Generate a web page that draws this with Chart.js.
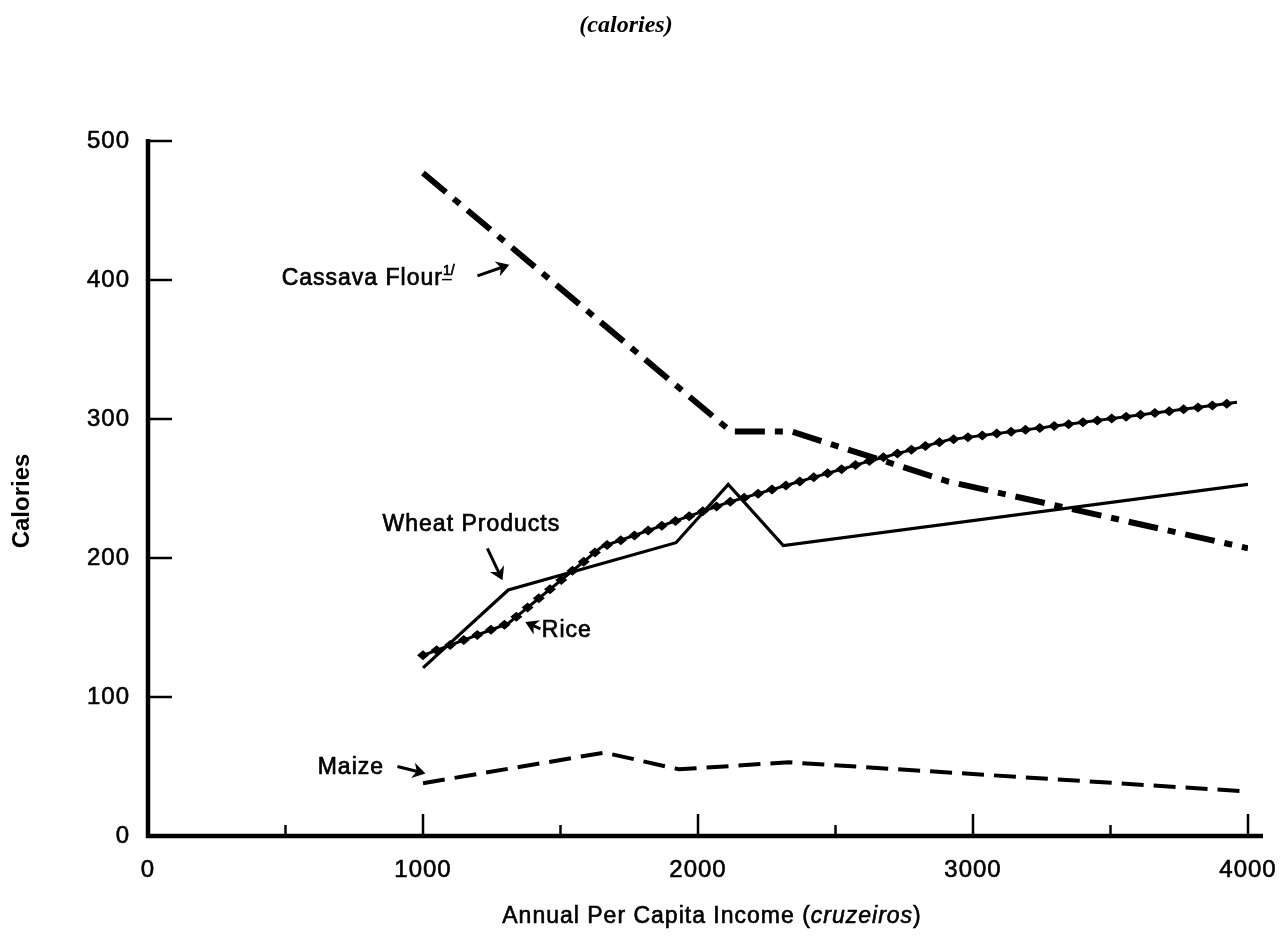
<!DOCTYPE html>
<html>
<head>
<meta charset="utf-8">
<script src="https://cdn.jsdelivr.net/npm/chart.js@4.4.1/dist/chart.umd.min.js"></script>
<style>
  html, body { margin: 0; padding: 0; background: #fff; }
</style>
</head>
<body>
<canvas id="grafico" width="1287" height="938"></canvas>
<script>
// Datos (ingreso anual per cápita en cruceiros, calorías)
const cassavaX = [1000, 2120, 2340, 2910, 4000];
const cassavaY = [477, 291, 291, 255, 207];
const wheatX = [1000, 1310, 1920, 2110, 2310, 4000];
const wheatY = [121, 177, 211, 253, 209, 253];
const riceX = [1000, 1310, 1650, 2110, 2610, 2910, 3960];
const riceY = [130, 153, 208, 240, 269, 285, 312];
const maizeX = [1000, 1660, 1930, 2330, 4000];
const maizeY = [38, 60, 48, 53, 32];

const xTicks = [0, 1000, 2000, 3000, 4000];
const yTicks = [0, 100, 200, 300, 400, 500];

const FUENTE = "'Liberation Sans', Arial, Helvetica, sans-serif";

// Etiquetas con flecha, en unidades de los datos
const etiquetas = [
  { texto: 'Cassava Flour', sup: '1/', x: 486, y: 401, cola: [1198, 403], punta: [1314, 411] },
  { texto: 'Wheat Products', x: 853, y: 224, cola: [1234, 207], punta: [1289, 184] },
  { texto: 'Rice', x: 1432, y: 148, cola: [1427, 149], punta: [1372, 154] },
  { texto: 'Maize', x: 617, y: 49, cola: [907, 50], punta: [1009, 45] }
];

function puntos(xs, ys) {
  return xs.map((x, i) => ({ x: x, y: ys[i] }));
}

function flecha(ctx, x1, y1, x2, y2) {
  const ang = Math.atan2(y2 - y1, x2 - x1);
  ctx.beginPath();
  ctx.moveTo(x1, y1);
  ctx.lineTo(x2 - 4 * Math.cos(ang), y2 - 4 * Math.sin(ang));
  ctx.stroke();
  ctx.beginPath();
  ctx.moveTo(x2, y2);
  ctx.lineTo(x2 - 15 * Math.cos(ang - 0.55), y2 - 15 * Math.sin(ang - 0.55));
  ctx.lineTo(x2 - 9 * Math.cos(ang), y2 - 9 * Math.sin(ang));
  ctx.lineTo(x2 - 15 * Math.cos(ang + 0.55), y2 - 15 * Math.sin(ang + 0.55));
  ctx.closePath();
  ctx.fill();
}

// diamantes a lo largo de la línea del arroz
function diamantes(ctx, pts, paso) {
  let d0 = 0;
  for (let i = 0; i < pts.length - 1; i++) {
    const a = pts[i], b = pts[i + 1];
    const dx = b.x - a.x, dy = b.y - a.y;
    const largo = Math.hypot(dx, dy);
    let d = d0;
    while (d <= largo) {
      const px = a.x + dx * d / largo, py = a.y + dy * d / largo;
      ctx.beginPath();
      ctx.moveTo(px - 6, py);
      ctx.lineTo(px, py - 5);
      ctx.lineTo(px + 6, py);
      ctx.lineTo(px, py + 5);
      ctx.closePath();
      ctx.fill();
      d += paso;
    }
    d0 = d - largo;
  }
}

function textoGrueso(ctx, t, x, y) {
  ctx.fillText(t, x, y);
  ctx.strokeText(t, x, y);
}

const decorado = {
  id: 'decorado',
  beforeDraw(chart) {
    chart.ctx.letterSpacing = '1px';
  },
  afterDatasetsDraw(chart) {
    const ctx = chart.ctx;
    const meta = chart.getDatasetMeta(2);
    ctx.save();
    ctx.fillStyle = '#000';
    diamantes(ctx, meta.data.map(p => ({ x: p.x, y: p.y })), 14.5);
    ctx.restore();
  },
  afterDraw(chart) {
    const ctx = chart.ctx;
    const xs = chart.scales.x, ys = chart.scales.y;
    const a = chart.chartArea;
    ctx.save();
    ctx.strokeStyle = '#000';
    ctx.fillStyle = '#000';
    ctx.lineCap = 'butt';

    // ejes
    ctx.lineWidth = 4.5;
    ctx.beginPath();
    ctx.moveTo(a.left, a.top - 2);
    ctx.lineTo(a.left, a.bottom);
    ctx.lineTo(a.right + 15, a.bottom);
    ctx.stroke();

    // marcas hacia adentro
    ctx.lineWidth = 2.5;
    yTicks.slice(1).forEach(v => {
      const py = ys.getPixelForValue(v);
      ctx.beginPath();
      ctx.moveTo(a.left, py);
      ctx.lineTo(a.left + 24, py);
      ctx.stroke();
    });
    for (let v = 500; v <= 4000; v += 500) {
      const px = xs.getPixelForValue(v);
      const alto = v % 1000 === 0 ? 22 : 11;
      ctx.beginPath();
      ctx.moveTo(px, a.bottom);
      ctx.lineTo(px, a.bottom - alto);
      ctx.stroke();
    }

    // etiquetas de las series
    ctx.font = '23px ' + FUENTE;
    ctx.textBaseline = 'middle';
    ctx.textAlign = 'left';
    etiquetas.forEach(e => {
      const px = xs.getPixelForValue(e.x), py = ys.getPixelForValue(e.y);
      ctx.lineWidth = 0.7;
      textoGrueso(ctx, e.texto, px, py);
      if (e.sup) {
        const w = ctx.measureText(e.texto).width;
        ctx.save();
        ctx.font = '14px ' + FUENTE;
        ctx.letterSpacing = '0px';
        textoGrueso(ctx, e.sup, px + w, py - 7);
        const w1 = ctx.measureText('1').width;
        ctx.lineWidth = 1.5;
        ctx.beginPath();
        ctx.moveTo(px + w - 1, py + 1);
        ctx.lineTo(px + w + w1 + 1, py + 1);
        ctx.stroke();
        ctx.restore();
      }
      ctx.lineWidth = 3;
      flecha(ctx, xs.getPixelForValue(e.cola[0]), ys.getPixelForValue(e.cola[1]),
        xs.getPixelForValue(e.punta[0]), ys.getPixelForValue(e.punta[1]));
    });

    // título
    ctx.textAlign = 'center';
    ctx.font = "italic bold 24px 'Liberation Serif', serif";
    ctx.letterSpacing = '0px';
    ctx.fillText('(calories)', 626, 26);

    // título eje y
    ctx.save();
    ctx.translate(22, 501);
    ctx.rotate(-Math.PI / 2);
    ctx.font = 'bold 24px ' + FUENTE;
    ctx.fillText('Calories', 0, 0);
    ctx.restore();

    // título eje x con parte en cursiva
    ctx.letterSpacing = '1px';
    ctx.lineWidth = 0.6;
    const partes = [
      { t: 'Annual Per Capita Income (', f: '23px ' + FUENTE },
      { t: 'cruzeiros', f: 'italic 23px ' + FUENTE },
      { t: ')', f: '23px ' + FUENTE }
    ];
    let total = 0;
    partes.forEach(p => { ctx.font = p.f; p.w = ctx.measureText(p.t).width; total += p.w; });
    let cx = 712 - total / 2;
    ctx.textAlign = 'left';
    partes.forEach(p => { ctx.font = p.f; textoGrueso(ctx, p.t, cx, 917); cx += p.w; });
    ctx.restore();
  }
};

new Chart(document.getElementById('grafico'), {
  type: 'line',
  data: {
    datasets: [
      {
        label: 'Cassava Flour',
        data: puntos(cassavaX, cassavaY),
        borderColor: '#000',
        borderWidth: 6,
        borderDash: [30, 10, 8, 10],
        borderCapStyle: 'butt'
      },
      {
        label: 'Wheat Products',
        data: puntos(wheatX, wheatY),
        borderColor: '#000',
        borderWidth: 3.2
      },
      {
        label: 'Rice',
        data: puntos(riceX, riceY),
        borderColor: '#000',
        borderWidth: 3
      },
      {
        label: 'Maize',
        data: puntos(maizeX, maizeY),
        borderColor: '#000',
        borderWidth: 4,
        borderDash: [22, 10]
      }
    ]
  },
  options: {
    responsive: false,
    animation: false,
    layout: { padding: { left: 0, right: 39, top: 141, bottom: 0 } },
    elements: { point: { radius: 0 }, line: { tension: 0, fill: false } },
    plugins: {
      legend: { display: false },
      tooltip: { enabled: false },
      title: { display: false }
    },
    scales: {
      x: {
        type: 'linear',
        min: 0,
        max: 4000,
        afterBuildTicks(s) { s.ticks = xTicks.map(v => ({ value: v })); },
        afterFit(s) { s.height = 102; s.paddingLeft = 0; s.paddingRight = 0; },
        ticks: {
          color: '#000', font: { family: FUENTE, size: 24 }, padding: 20, maxRotation: 0,
          textStrokeColor: '#000', textStrokeWidth: 0.6, callback: v => String(v)
        },
        grid: { display: false, drawTicks: false },
        border: { display: false }
      },
      y: {
        min: 0,
        max: 500,
        afterBuildTicks(s) { s.ticks = yTicks.map(v => ({ value: v })); },
        afterFit(s) { s.width = 148; s.paddingTop = 0; s.paddingBottom = 0; },
        ticks: {
          color: '#000', font: { family: FUENTE, size: 24 }, padding: 18,
          textStrokeColor: '#000', textStrokeWidth: 0.6, callback: v => String(v)
        },
        grid: { display: false, drawTicks: false },
        border: { display: false }
      }
    }
  },
  plugins: [decorado]
});
</script>
</body>
</html>
